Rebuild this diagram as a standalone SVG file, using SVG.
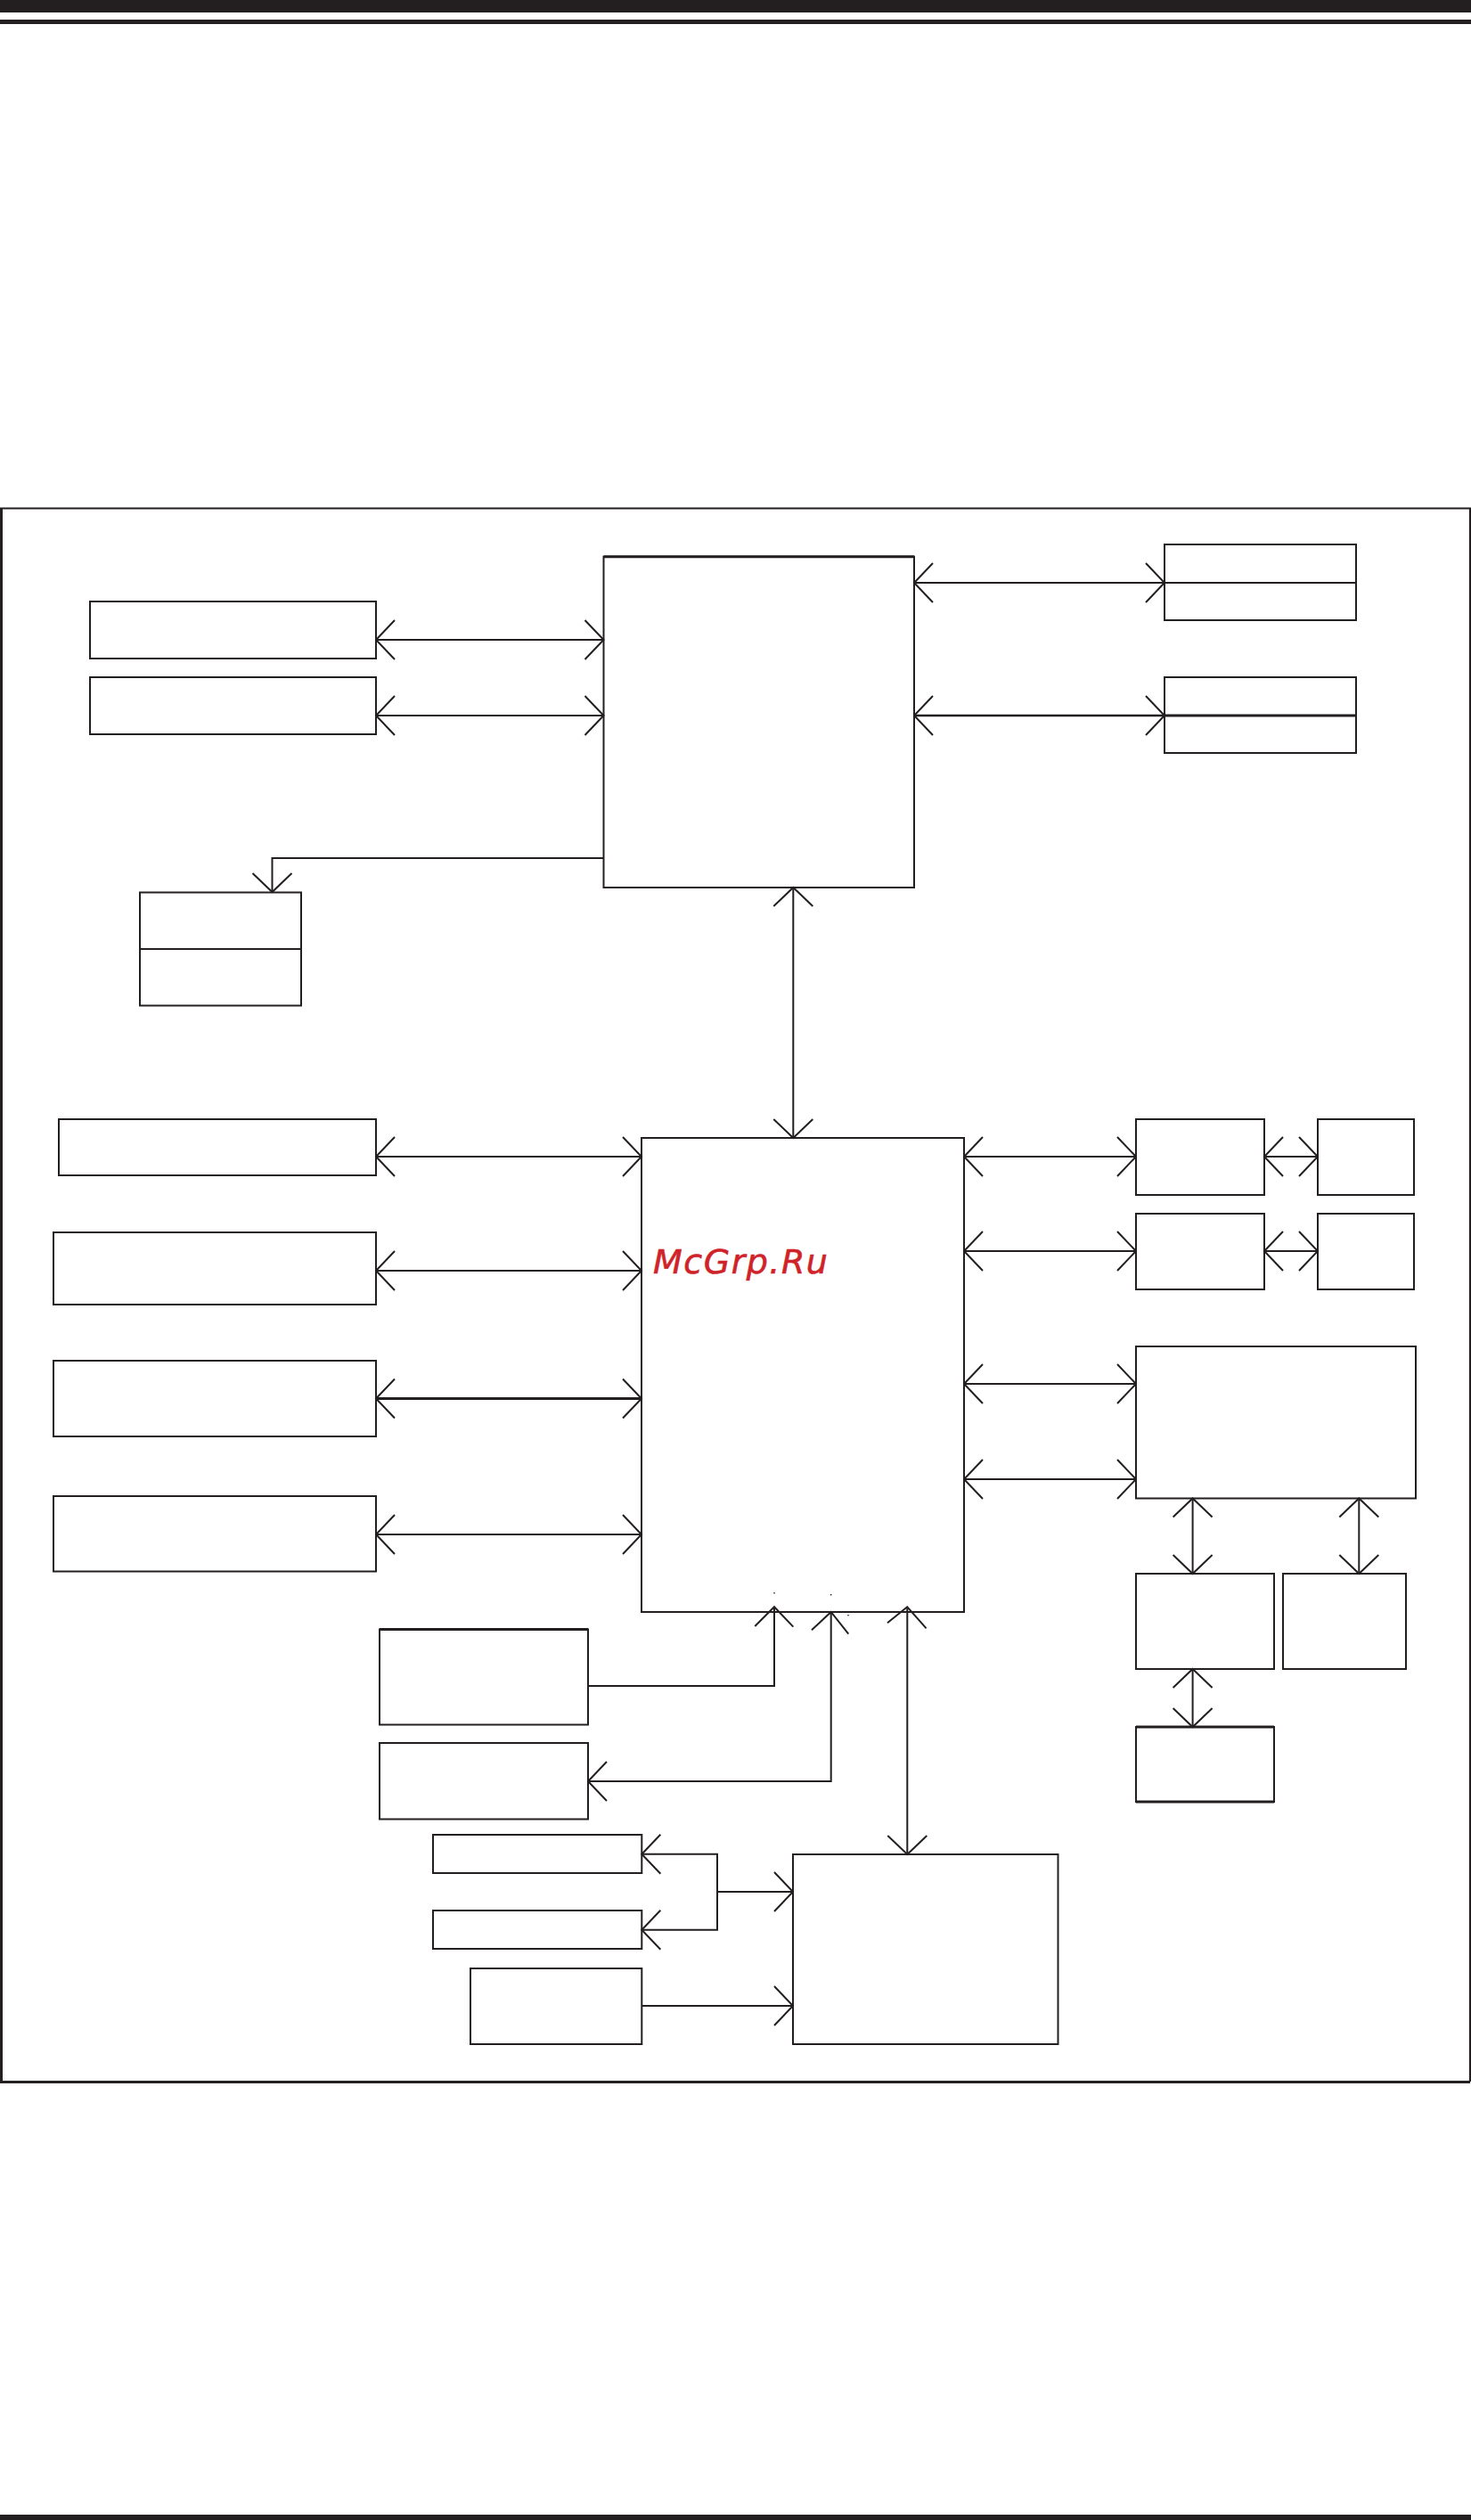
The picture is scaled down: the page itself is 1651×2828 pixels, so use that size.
<svg xmlns="http://www.w3.org/2000/svg" width="1651" height="2828" viewBox="0 0 1651 2828">
<style>
.n{fill:#fff;stroke:#231f20;stroke-width:2}
.d{fill:none;stroke:#231f20;stroke-width:2}
.e{fill:none;stroke:#231f20;stroke-width:3}
.c{fill:none;stroke:#231f20;stroke-width:2}
.h{stroke-width:3}
.b{fill:#231f20}
.w{font-family:"DejaVu Sans",sans-serif;font-style:italic;font-size:38px;letter-spacing:1.5px;fill:#cf2329;stroke:#cf2329;stroke-width:.6}
</style>
<defs>
<marker id="v" markerUnits="userSpaceOnUse" markerWidth="46" markerHeight="48" viewBox="-23 -24 26 48" refX="0" refY="0" orient="auto-start-reverse">
<path d="M-21,-22L0,0L-21,22" fill="none" stroke="#231f20" stroke-width="2"/>
</marker>
</defs>
<rect width="1651" height="2828" fill="#fff"/>
<g id="page-rules">
<rect class="b" x="0" y="0" width="1651" height="14"/>
<rect class="b" x="0" y="22" width="1651" height="5"/>
<rect class="b" x="0" y="2822" width="1651" height="6"/>
</g>
<g id="frame" fill="none" stroke="#231f20"><path stroke-width="2.200" d="M0,570.500H1650V2336"/><path stroke-width="3" d="M1.500,570.500V2336.500H1650"/></g>
<g id="n-top-left-1"><rect class="n" x="101" y="675" width="321" height="64"/></g>
<g id="n-top-left-2"><rect class="n" x="101" y="760" width="321" height="64"/></g>
<g id="n-hub-top"><rect class="n" x="677.500" y="624.700" width="348.500" height="371.300"/><path class="e" d="M677.500,624.700H1026"/></g>
<g id="n-top-right-1"><rect class="n" x="1307" y="611" width="215" height="85"/><path class="d" d="M1307,654H1522"/></g>
<g id="n-top-right-2"><rect class="n" x="1307" y="760" width="215" height="85"/><path class="e" d="M1307,803H1522"/></g>
<g id="n-stack"><rect class="n" x="157" y="1001.500" width="181" height="127"/><path class="d" d="M157,1065H338"/></g>
<g id="n-left-1"><rect class="n" x="66" y="1256" width="356" height="63"/></g>
<g id="n-left-2"><rect class="n" x="60" y="1383" width="362" height="81"/></g>
<g id="n-left-3"><rect class="n" x="60" y="1527" width="362" height="85"/></g>
<g id="n-left-4"><rect class="n" x="60" y="1679" width="362" height="84.500"/></g>
<g id="n-hub-main"><rect class="n" x="720" y="1277" width="362" height="532"/></g>
<g id="n-right-1"><rect class="n" x="1275" y="1256" width="144" height="85"/></g>
<g id="n-right-1b"><rect class="n" x="1479" y="1256" width="108" height="85"/></g>
<g id="n-right-2"><rect class="n" x="1275" y="1362" width="144" height="85"/></g>
<g id="n-right-2b"><rect class="n" x="1479" y="1362" width="108" height="85"/></g>
<g id="n-right-big"><rect class="n" x="1275" y="1511" width="314" height="170.500"/></g>
<g id="n-lower-1"><rect class="n" x="1275" y="1766" width="155" height="107"/></g>
<g id="n-lower-2"><rect class="n" x="1440" y="1766" width="138" height="107"/></g>
<g id="n-lower-3"><rect class="n" x="1275" y="1938" width="155" height="84"/><path class="e" d="M1275,1938H1430M1275,2022H1430"/></g>
<g id="n-bottom-1"><rect class="n" x="426" y="1828.500" width="234" height="107"/><path class="e" d="M426,1828.500H660"/></g>
<g id="n-bottom-2"><rect class="n" x="426" y="1956" width="234" height="85.500"/></g>
<g id="n-bottom-3"><rect class="n" x="486" y="2059" width="234.300" height="43"/></g>
<g id="n-bottom-4"><rect class="n" x="486" y="2144" width="234.300" height="43"/></g>
<g id="n-bottom-5"><rect class="n" x="528" y="2209" width="192.300" height="85"/></g>
<g id="n-bottom-6"><rect class="n" x="890" y="2081" width="297.500" height="213"/></g>
<g id="connectors">
<g class="c" marker-start="url(#v)" marker-end="url(#v)">
<path d="M422,718H677.500"/>
<path d="M422,803H677.500"/>
<path d="M1026,654H1307"/>
<path d="M1026,803H1307" style="stroke-width:2.500"/>
<path d="M890.300,996V1277"/>
<path d="M422,1298H720"/>
<path d="M422,1426H720"/>
<path class="h" d="M422,1569.500H720"/>
<path d="M422,1722H720"/>
<path d="M1082,1298H1275"/>
<path d="M1082,1404H1275"/>
<path d="M1082,1553H1275"/>
<path d="M1082,1660H1275"/>
<path d="M1419,1298H1479"/>
<path d="M1419,1404H1479"/>
<path d="M1338.600,1681.500V1766"/>
<path d="M1525.300,1681.500V1766"/>
<path d="M1338.600,1873V1938"/>
</g>
<path class="c" d="M677.500,963H305.500V1001" marker-end="url(#v)"/>
<path class="c" d="M660,1892H869V1805"/>
<path class="c" d="M847.300,1825L869,1803.300L890.300,1825.600"/>
<path class="c" d="M932.700,1809V1999H660" marker-end="url(#v)"/>
<path class="c" d="M911,1829.300L932.700,1809L952.300,1833.700"/>
<path class="c" d="M1018.300,1805V2081" marker-end="url(#v)"/>
<path class="c" d="M996,1821.300L1018.300,1803.300L1039.600,1827.400"/>
<path class="c" d="M805,2123V2080.700H720.300" marker-end="url(#v)"/>
<path class="c" d="M805,2123V2165.700H720.300" marker-end="url(#v)"/>
<path class="c" d="M805,2123H890" marker-end="url(#v)"/>
<path class="c" d="M720.300,2251H890" marker-end="url(#v)"/>
<g class="b"><rect x="868.300" y="1787" width="1.400" height="1.400"/><rect x="932" y="1789" width="1.400" height="1.400"/><rect x="951.300" y="1812" width="1.400" height="1.400"/></g>
</g>
<text class="w" x="733" y="1429">McGrp.Ru</text>
</svg>
